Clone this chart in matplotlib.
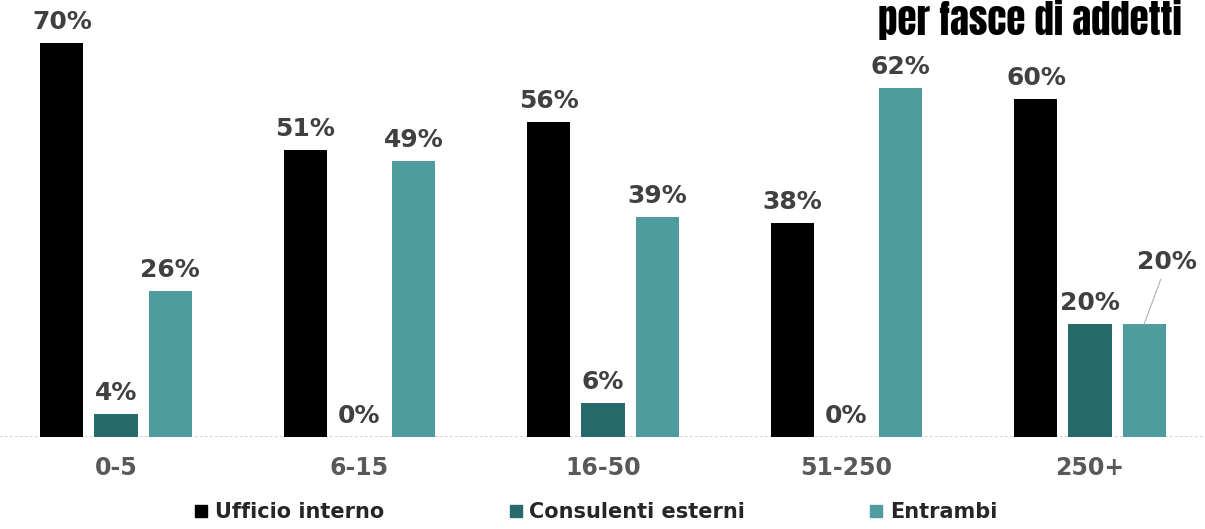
import numpy as np
import matplotlib
matplotlib.use("Agg")
import matplotlib.pyplot as plt
from matplotlib.lines import Line2D

# data
categories = ["0-5", "6-15", "16-50", "51-250", "250+"]
ufficio = [70, 51, 56, 38, 60]
consulenti = [4, 0, 6, 0, 20]
entrambi = [26, 49, 39, 62, 20]
series_names = ["Ufficio interno", "Consulenti esterni", "Entrambi"]
colors = ["#000000", "#276A6B", "#4E9C9E"]

heavy = ["Anton", "DejaVu Sans"]
lab_color = "#404040"

fig = plt.figure(figsize=(12.05, 5.29), dpi=100)
ax = fig.add_axes([0, 92 / 529, 1, 437 / 529])

x = np.arange(len(categories))
w = 0.177
step = 0.222
series = [ufficio, consulenti, entrambi]
for k, (vals, col) in enumerate(zip(series, colors)):
    xs = x + (k - 1) * step
    ax.bar(xs, vals, width=w, color=col, zorder=3)
    for i, (xi, v) in enumerate(zip(xs, vals)):
        if k == 2 and i == 4:
            # label moved out with a leader line
            ax.annotate(f"{v}%", xy=(xi, v), xytext=(xi + 0.095, v + 11.1),
                        ha="center", va="center", fontsize=18, fontweight="bold",
                        color=lab_color,
                        arrowprops=dict(arrowstyle="-", color="#b0b0b0", lw=0.8,
                                        shrinkA=2, shrinkB=0))
            continue
        ax.text(xi, v + 1.6, f"{v}%", ha="center", va="bottom", fontsize=18,
                fontweight="bold", color=lab_color)

ax.axhline(0, color="#c8c8c8", lw=1.2, ls=(0, (1.5, 1.5)), zorder=2)
ax.set_xlim(-116 / 243.5, (1205 - 116) / 243.5)
ax.set_ylim(0, 437 / 5.63)
ax.set_xticks(x)
ax.set_xticklabels(categories, fontsize=17, fontweight="bold", color="#595959")
ax.tick_params(axis="x", length=0, pad=14)
ax.set_yticks([])
for s in ax.spines.values():
    s.set_visible(False)

fig.text(878 / 1205, 1 - 20 / 529, "per fasce di addetti", ha="left", va="center",
         fontsize=28, family=heavy, color="#000000")

handles = [Line2D([], [], marker="s", ls="", color=c, markersize=9) for c in colors]
fig.legend(handles, series_names, loc="center", bbox_to_anchor=(0.493, 1 - 512 / 529),
           ncol=3, frameon=False,
           prop={"family": "DejaVu Sans", "size": 15, "weight": "bold"},
           labelcolor="#262626",
           columnspacing=5.8, handletextpad=0.15, handlelength=1.0)

fig.savefig("out.png", dpi=100)
